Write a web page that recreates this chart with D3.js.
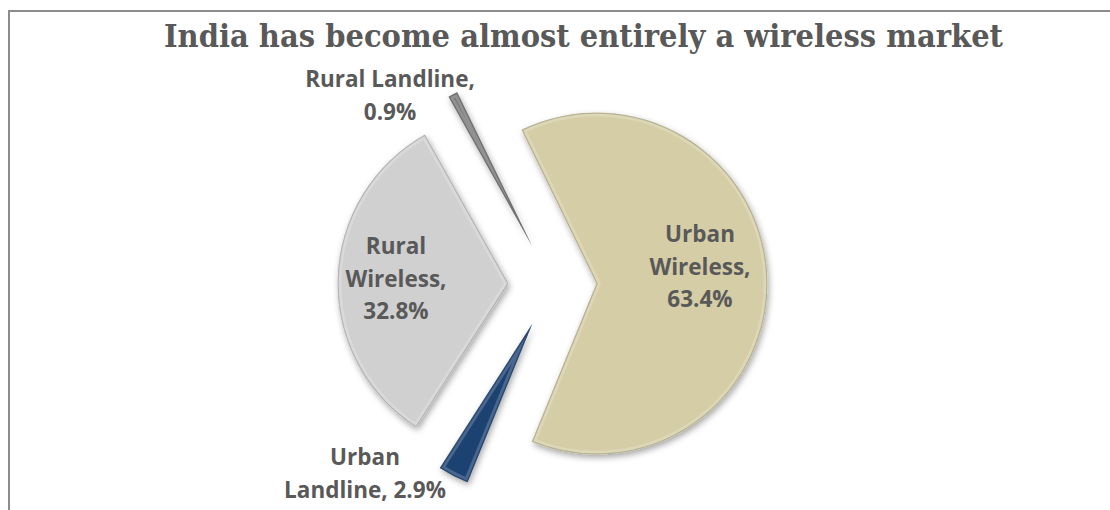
<!DOCTYPE html>
<html>
<head>
<meta charset="utf-8">
<script src="https://cdn.jsdelivr.net/npm/d3@7"></script>
<style>
  body { margin: 0; background: #fff; }
  svg { display: block; }
</style>
</head>
<body>
<div id="chart"></div>
<script>
var categories = ["Urban Wireless", "Urban Landline", "Rural Wireless", "Rural Landline"];
var shares     = [63.4, 2.9, 32.8, 0.9];
var labelLines = [["Urban", "Wireless,", "63.4%"],
                  ["Urban", "Landline, 2.9%"],
                  ["Rural", "Wireless,", "32.8%"],
                  ["Rural Landline,", "0.9%"]];
var colors     = ["#d4cda5", "#1f4272", "#d0d0d0", "#767676"];

var W = 1110, H = 510;
var cx = 552.5, cy = 285, radius = 171, explode = 44;
var startDeg = -26;

var svg = d3.select("#chart").append("svg")
            .attr("width", W)
            .attr("height", H);

var defs = svg.append("defs");
var shadow = defs.append("filter").attr("id", "shadow")
                 .attr("x", "-20%").attr("y", "-20%").attr("width", "140%").attr("height", "140%");
shadow.append("feDropShadow").attr("dx", 1.5).attr("dy", 3).attr("stdDeviation", 3)
      .attr("flood-color", "#000").attr("flood-opacity", 0.35);

// chart frame (runs off the right and bottom of the window)
svg.append("rect")
   .attr("x", 9).attr("y", 11)
   .attr("width", W + 20).attr("height", H + 20)
   .attr("fill", "none")
   .attr("stroke", "#8c8c8c")
   .attr("stroke-width", 2);

svg.append("text")
   .attr("x", 583.5).attr("y", 47)
   .attr("text-anchor", "middle")
   .attr("textLength", 839)
   .attr("lengthAdjust", "spacingAndGlyphs")
   .style("font-family", "'DejaVu Serif', serif")
   .style("font-weight", "bold")
   .style("font-size", "31px")
   .attr("fill", "#595959")
   .text("India has become almost entirely a wireless market");

var pie = d3.pie().sort(null).value(function(d){ return d; })
            .startAngle(startDeg * Math.PI / 180)
            .endAngle((startDeg + 360) * Math.PI / 180);

var arc = d3.arc().innerRadius(0).outerRadius(radius);
var arcs = pie(shares);

var g = svg.append("g").attr("transform", "translate(" + cx + "," + cy + ")");

var slices = g.selectAll("g.slice")
              .data(arcs)
              .enter()
              .append("g")
              .attr("class", "slice")
              .attr("transform", function(d){
                var mid = (d.startAngle + d.endAngle) / 2;
                return "translate(" + (explode * Math.sin(mid)) + "," + (-explode * Math.cos(mid)) + ")";
              });

slices.append("clipPath")
      .attr("id", function(d,i){ return "clip" + i; })
      .append("path")
      .attr("d", arc);

slices.append("path")
      .attr("d", arc)
      .attr("fill", function(d,i){ return colors[i]; })
      .attr("filter", "url(#shadow)");

// soft bevel: light inner rim, then a darker edge
slices.append("path")
      .attr("d", arc)
      .attr("fill", "none")
      .attr("clip-path", function(d,i){ return "url(#clip" + i + ")"; })
      .attr("stroke", "#fff")
      .attr("stroke-opacity", 0.2)
      .attr("stroke-width", 8);

slices.append("path")
      .attr("d", arc)
      .attr("fill", "none")
      .attr("clip-path", function(d,i){ return "url(#clip" + i + ")"; })
      .attr("stroke", function(d,i){ return d3.color(colors[i]).darker(0.8); })
      .attr("stroke-opacity", 0.6)
      .attr("stroke-width", 2.5);

// label anchors (page coordinates, first baseline) and line spacing
var labelPos = [[700, 242], [365, 465], [396, 254], [390, 87]];
var lineGap = 32.5;

var labels = svg.append("g").selectAll("text")
                .data(labelLines)
                .enter()
                .append("text")
                .attr("text-anchor", "middle")
                .style("font-family", "'Open Sans', sans-serif")
                .style("font-weight", "bold")
                .style("font-size", "22.5px")
                .attr("fill", "#595959");

labels.each(function(lines, i){
  var t = d3.select(this);
  lines.forEach(function(s, j){
    t.append("tspan")
     .attr("x", labelPos[i][0])
     .attr("y", labelPos[i][1] + j * lineGap)
     .text(s);
  });
});
</script>
</body>
</html>
